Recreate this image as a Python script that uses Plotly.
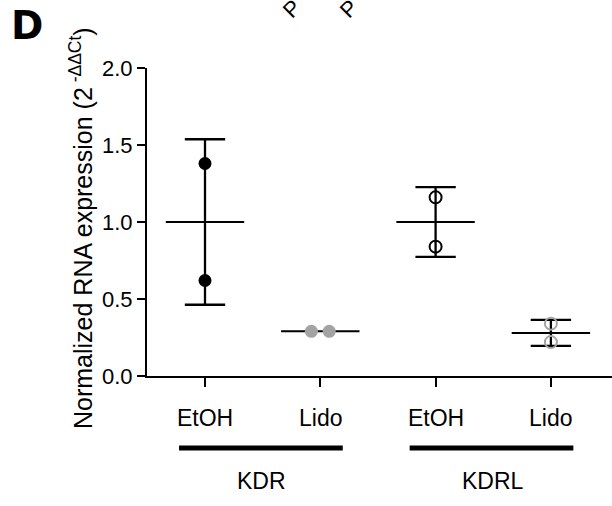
import numpy as np
import plotly.graph_objects as go

# ---- data ----
groups = ["KDR", "KDRL"]
treatments = ["EtOH", "Lido"]
kdr_etoh = [1.38, 0.62]
kdr_lido = [0.29, 0.29]
kdrl_etoh = [1.16, 0.84]
kdrl_lido = [0.34, 0.22]
y_ticks = [0.0, 0.5, 1.0, 1.5, 2.0]
y_ticklabels = ["0.0", "0.5", "1.0", "1.5", "2.0"]

series = [
    dict(vals=kdr_etoh, label=treatments[0], color="black", filled=True),
    dict(vals=kdr_lido, label=treatments[1], color="#a3a3a3", filled=True),
    dict(vals=kdrl_etoh, label=treatments[0], color="black", filled=False),
    dict(vals=kdrl_lido, label=treatments[1], color="#a3a3a3", filled=False),
]

FONT = "Liberation Sans, Arial, sans-serif"
W, H = 612, 506
ML, MR, MT, MB = 147, 0, 68, 130
PH = H - MT - MB
PW = W - ML - MR

def py(ref_pix):
    """reference-image y pixel -> paper y"""
    return (H - MB - ref_pix) / PH

def px(ref_pix):
    """reference-image x pixel -> paper x"""
    return (ref_pix - ML) / PW

fig = go.Figure()

mean_hw = 0.34
cap_hw = 0.175
for i, s in enumerate(series):
    v = np.array(s["vals"], dtype=float)
    m = v.mean()
    sd = v.std(ddof=1)
    fig.add_trace(go.Scatter(x=[i - mean_hw, i + mean_hw], y=[m, m], mode="lines",
                             line=dict(color="black", width=2), showlegend=False, hoverinfo="skip"))
    if sd > 0.02:
        fig.add_trace(go.Scatter(
            x=[i, i, None, i - cap_hw, i + cap_hw, None, i - cap_hw, i + cap_hw],
            y=[m - sd, m + sd, None, m + sd, m + sd, None, m - sd, m - sd],
            mode="lines", line=dict(color="black", width=2.3), showlegend=False, hoverinfo="skip"))
    xs = []
    for j, val in enumerate(v):
        dup = [k for k in range(len(v)) if abs(v[k] - val) < 0.05]
        if len(dup) > 1:
            idx = dup.index(j)
            xs.append(i + (idx - (len(dup) - 1) / 2) * 0.155)
        else:
            xs.append(i)
    if s["filled"]:
        marker = dict(size=13, color=s["color"], line=dict(width=0))
    else:
        marker = dict(size=12, color=s["color"], symbol="circle-open",
                      line=dict(color=s["color"], width=2))
    fig.add_trace(go.Scatter(x=xs, y=v, mode="markers", marker=marker,
                             showlegend=False, hoverinfo="skip"))

annotations = []
for i, s in enumerate(series):
    annotations.append(dict(x=i, y=py(418), xref="x", yref="paper", text=s["label"],
                            xanchor="center", yanchor="middle",
                            showarrow=False, font=dict(size=23, color="black", family=FONT)))
shapes = []
for g, name in enumerate(groups):
    c = 2 * g + 0.49
    shapes.append(dict(type="line", xref="x", yref="paper", x0=c - 0.715, x1=c + 0.705,
                       y0=py(448), y1=py(448), line=dict(color="black", width=5)))
    annotations.append(dict(x=c + 0.01 * g, y=py(481), xref="x", yref="paper", text=name,
                            xanchor="center", yanchor="middle",
                            showarrow=False, font=dict(size=23, color="black", family=FONT)))

annotations.append(dict(x=px(81), y=py(228), xref="paper", yref="paper",
                        xanchor="center", yanchor="middle",
                        text="Normalized RNA expression (2<sup> -ΔΔCt</sup>)",
                        textangle=-90, showarrow=False,
                        font=dict(size=25, color="black", family=FONT)))
annotations.append(dict(x=px(27), y=py(26), xref="paper", yref="paper", text="<b>D</b>",
                        xanchor="center", yanchor="middle", showarrow=False,
                        font=dict(size=39, color="black", family="DejaVu Sans, sans-serif")))
for xp in [275, 332]:
    annotations.append(dict(x=px(xp), y=py(25), xref="paper", yref="paper",
                            xanchor="left", yanchor="bottom",
                            text="P", textangle=-45, showarrow=False,
                            font=dict(size=22, color="black", family=FONT)))

fig.update_layout(
    width=W, height=H,
    margin=dict(l=ML, r=MR, t=MT, b=MB, pad=0),
    paper_bgcolor="white", plot_bgcolor="white",
    font=dict(family=FONT, size=22, color="black"),
    xaxis=dict(range=[-0.503, 3.53], tickvals=list(range(len(series))), showticklabels=False,
               ticks="outside", ticklen=9, tickwidth=2, tickcolor="black",
               showline=True, linecolor="black", linewidth=2, showgrid=False, zeroline=False),
    yaxis=dict(range=[0, 2], tickvals=y_ticks, ticktext=y_ticklabels,
               ticks="outside", ticklen=8, tickwidth=2, tickcolor="black",
               showline=True, linecolor="black", linewidth=2, showgrid=False, zeroline=False,
               tickfont=dict(size=22, family=FONT)),
    annotations=annotations, shapes=shapes,
)

fig.write_html("out.html", config={"displayModeBar": False},
               post_script="document.body.style.margin='0px';document.body.style.overflow='hidden';")
